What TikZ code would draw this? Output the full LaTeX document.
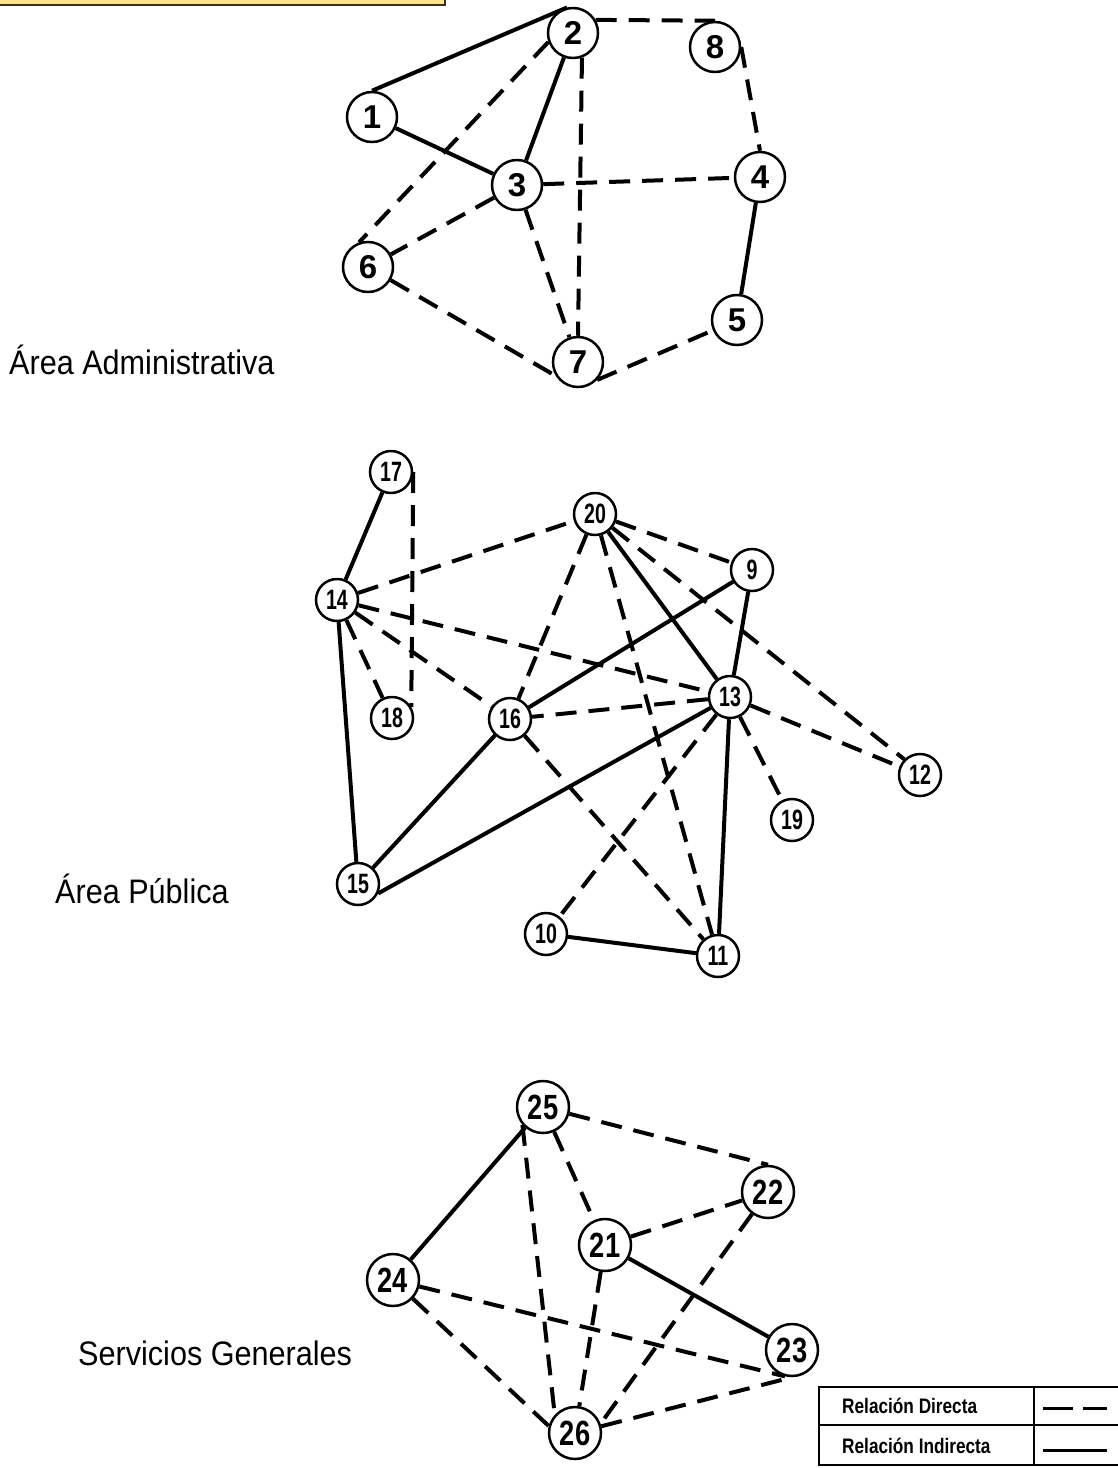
\documentclass[tikz,border=0pt]{standalone}
\usepackage{fontspec}
\setmainfont{Liberation Sans}
\usepackage{graphicx}
\definecolor{boxyellow}{HTML}{FFE48C}
\definecolor{boxdark}{HTML}{3C3010}
\tikzset{
  nd/.style={circle, draw, line width=2.5pt, minimum size=50pt, inner sep=0pt, font=\bfseries\fontsize{33}{33}\selectfont},
  ndp/.style={nd, minimum size=42pt, font=\bfseries\fontsize{28}{28}\selectfont},
  nds/.style={nd, minimum size=52pt, font=\bfseries\fontsize{35}{35}\selectfont},
  dd/.style={line width=4pt, dash pattern=on 21pt off 12pt},
  ss/.style={line width=4pt},
  arealabel/.style={anchor=base west, inner sep=0pt, font=\fontsize{34}{34}\selectfont},
  legtext/.style={anchor=west, inner sep=0pt, font=\bfseries\fontsize{21}{21}\selectfont},
}
\begin{document}
\begin{tikzpicture}[x=1pt, y=-1pt]
\useasboundingbox (0,0) rectangle (1118,1468);
% yellow box at top
\fill[boxyellow] (-5,-5) rectangle (444,4);
\draw[boxdark, line width=2pt] (-5,5) -- (445,5) -- (445,-5);

% ---------- Area Administrativa ----------
\node[nd] (n2) at (573,33) {2};
\node[nd] (n8) at (715,47) {8};
\node[nd] (n1) at (372,117) {1};
\node[nd] (n3) at (517,185) {3};
\node[nd] (n4) at (760,177) {4};
\node[nd] (n6) at (368,267) {6};
\node[nd] (n5) at (737,320) {5};
\node[nd] (n7) at (578,362) {7};

\draw[ss] (n1.north) -- (n2.103);
\draw[ss] (n1) -- (n3);
\draw[ss] (n2) -- (n3);
\draw[dd] (n2.200) -- (n6.110);
\draw[dd] (n2.30) -- (n8.north);
\draw[dd] (n2.-70) -- (n7.north);
\draw[dd] (n8.east) -- (n4.north);
\draw[dd] (n3) -- (n4);
\draw[dd] (n3) -- (n6);
\draw[dd] (n3) -- (n7);
\draw[dd] (n6) -- (n7.212);
\draw[dd] (n7.-43) -- (n5);
\draw[ss] (n4) -- (n5);

\node[arealabel] (la) at (9,374) {\scalebox{0.9}[1]{Área Administrativa}};

% ---------- Area Publica ----------
\node[ndp] (n17) at (391,472) {\scalebox{0.7}[1]{17}};
\node[ndp] (n20) at (595,514) {\scalebox{0.7}[1]{20}};
\node[ndp] (n9) at (752,570) {\scalebox{0.7}[1]{9}};
\node[ndp] (n14) at (337,600) {\scalebox{0.7}[1]{14}};
\node[ndp] (n18) at (392,718) {\scalebox{0.7}[1]{18}};
\node[ndp] (n16) at (510,719) {\scalebox{0.7}[1]{16}};
\node[ndp] (n13) at (730,697) {\scalebox{0.7}[1]{13}};
\node[ndp] (n12) at (920,775) {\scalebox{0.7}[1]{12}};
\node[ndp] (n19) at (792,820) {\scalebox{0.7}[1]{19}};
\node[ndp] (n15) at (358,884) {\scalebox{0.7}[1]{15}};
\node[ndp] (n10) at (546,934) {\scalebox{0.7}[1]{10}};
\node[ndp] (n11) at (718,956) {\scalebox{0.7}[1]{11}};

\draw[ss] (n17) -- (n14);
\draw[dd] (n17.east) -- (n18.30);
\draw[dd] (n14) -- (n20);
\draw[dd] (n14) -- (n13);
\draw[dd] (n14) -- (n16);
\draw[dd] (n14) -- (n18);
\draw[ss] (n14) -- (n15);
\draw[dd] (n20) -- (n16);
\draw[dd] (n20) -- (n11);
\draw[ss] (n20) -- (n13);
\draw[dd] (n20) -- (n9);
\draw[dd] (n20) -- (n12.135);
\draw[ss] (n9) -- (n16);
\draw[ss] (n9) -- (n13);
\draw[dd] (n13) -- (n16);
\draw[ss] (n13) -- (n15.-25);
\draw[dd] (n13) -- (n10);
\draw[ss] (n13) -- (n11);
\draw[dd] (n13) -- (n12);
\draw[dd] (n13) -- (n19);
\draw[ss] (n16) -- (n15);
\draw[dd] (n16) -- (n11);
\draw[ss] (n10) -- (n11);

\node[arealabel] (lp) at (55,903) {\scalebox{0.9}[1]{Área Pública}};

% ---------- Servicios Generales ----------
\node[nds] (n25) at (543,1107) {\scalebox{0.78}[1]{25}};
\node[nds] (n22) at (768,1192) {\scalebox{0.78}[1]{22}};
\node[nds] (n21) at (605,1245) {\scalebox{0.78}[1]{21}};
\node[nds] (n24) at (393,1280) {\scalebox{0.78}[1]{24}};
\node[nds] (n23) at (792,1350) {\scalebox{0.78}[1]{23}};
\node[nds] (n26) at (575,1433) {\scalebox{0.78}[1]{26}};

\draw[ss] (n25) -- (n24);
\draw[dd] (n25) -- (n22.north);
\draw[dd] (n25) -- (n21);
\draw[dd] (n25.221) -- (n26.138);
\draw[dd] (n21) -- (n22);
\draw[ss] (n21) -- (n23);
\draw[dd] (n21) -- (n26);
\draw[dd] (n22.234) -- (n26.20);
\draw[dd] (n24) -- (n23.255);
\draw[dd] (n24) -- (n26.165);
\draw[dd] (n26) -- (n23.south);

\node[arealabel] (ls) at (78,1365) {\scalebox{0.9}[1]{Servicios Generales}};

% ---------- Legend ----------
\draw[line width=2pt] (819,1387) rectangle (1130,1465);
\draw[line width=2pt] (819,1425) -- (1130,1425);
\draw[line width=2pt] (1034,1387) -- (1034,1465);
\node[legtext] (lg1) at (842,1406) {\scalebox{0.82}[1]{Relación Directa}};
\node[legtext] (lg2) at (842,1446) {\scalebox{0.82}[1]{Relación Indirecta}};
\coordinate (d1) at (1043,1408);
\coordinate (d2) at (1107,1408);
\coordinate (s1) at (1043,1450);
\coordinate (s2) at (1107,1450);
\draw[line width=3pt, dash pattern=on 30pt off 10pt] (d1) -- (d2);
\draw[line width=3pt] (s1) -- (s2);
\end{tikzpicture}
\end{document}
